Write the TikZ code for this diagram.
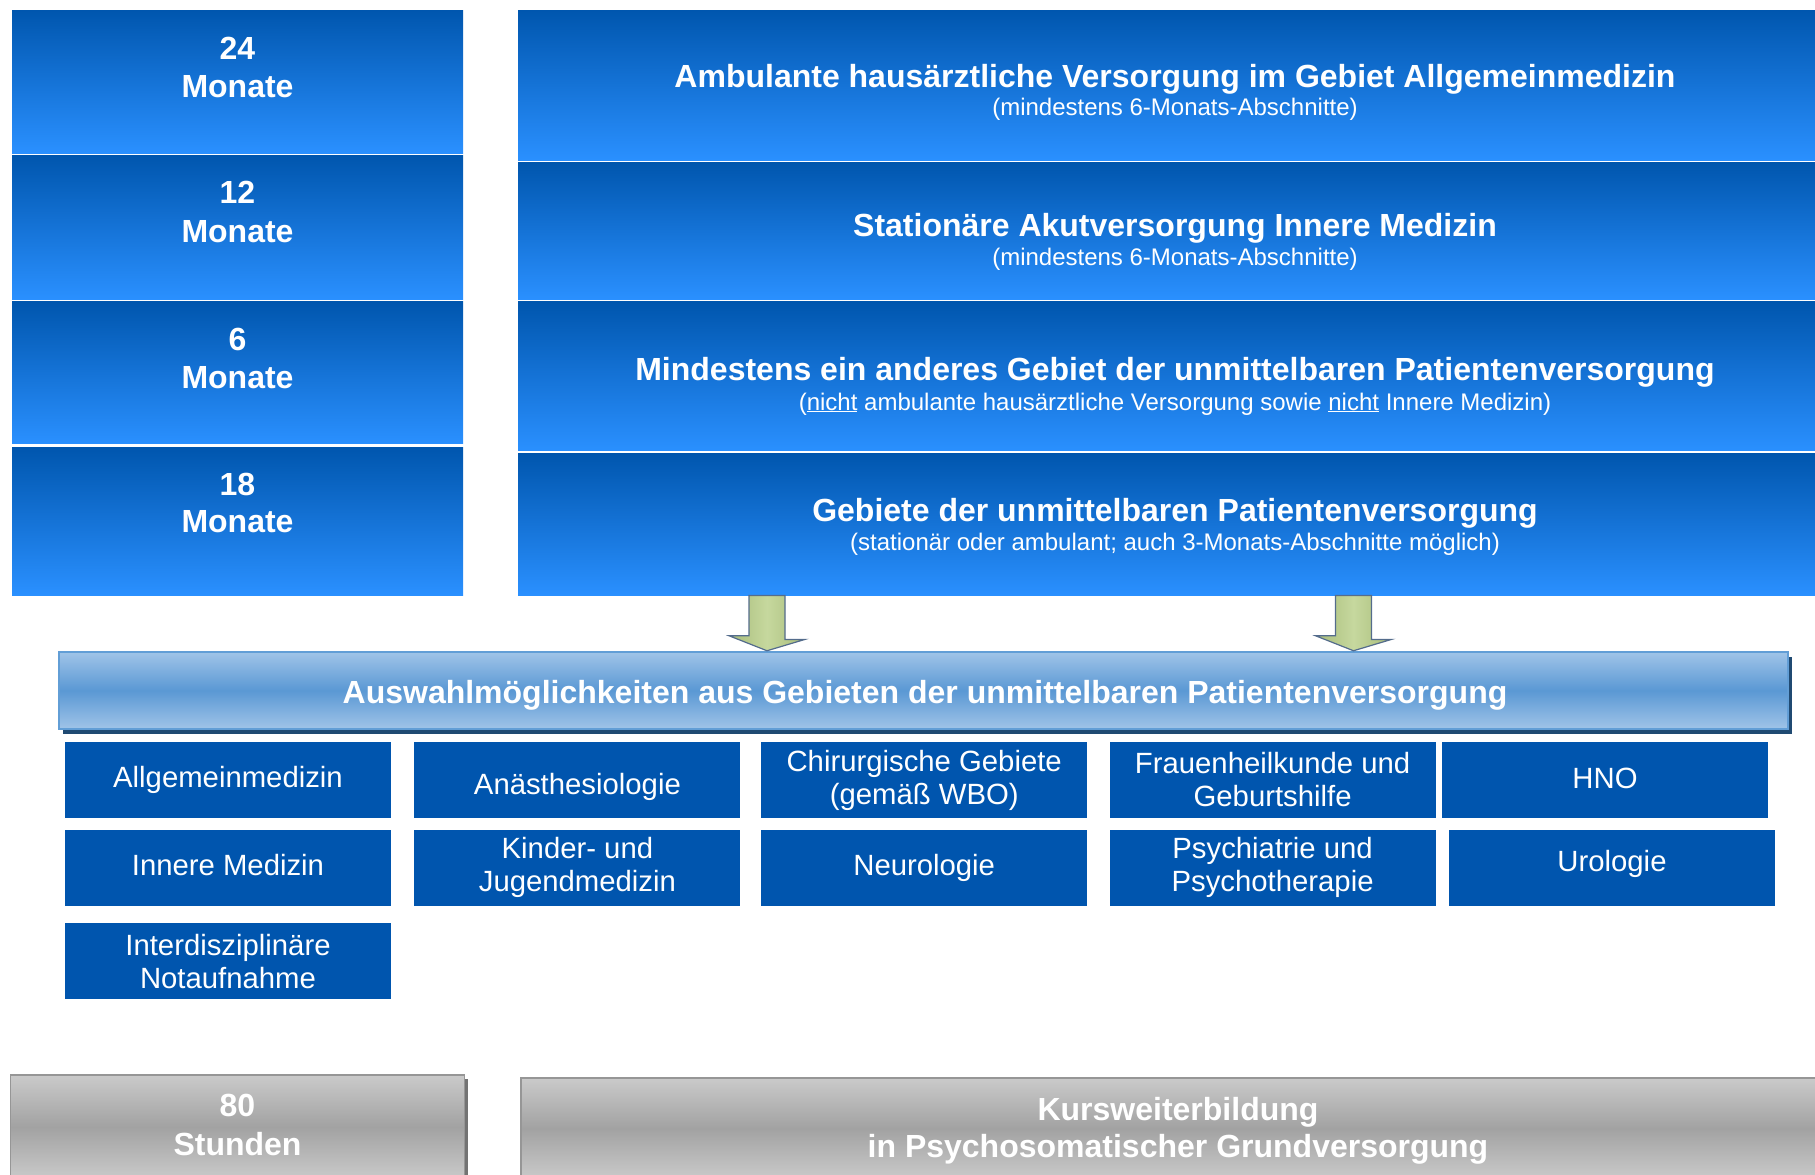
\documentclass[tikz,border=0pt]{standalone}
\usepackage{fontspec}
\setmainfont{Liberation Sans}
\usetikzlibrary{positioning,calc,shadows}

\definecolor{boxtop}{RGB}{0,86,174}
\definecolor{boxbot}{RGB}{42,144,255}
\definecolor{gridblue}{RGB}{0,85,174}
\definecolor{bandlight}{RGB}{160,196,232}
\definecolor{bandmid}{RGB}{90,152,212}
\definecolor{bandedge}{RGB}{98,158,214}
\definecolor{bandshadow}{RGB}{32,74,114}
\definecolor{arrowlight}{RGB}{198,216,158}
\definecolor{arrowdark}{RGB}{168,188,122}
\definecolor{arrowedge}{RGB}{84,108,140}
\definecolor{graylight}{RGB}{202,202,202}
\definecolor{graydark}{RGB}{162,162,162}
\definecolor{grayedge}{RGB}{150,150,150}

\begin{document}
\begin{tikzpicture}[x=1pt,y=-1pt,
    bluebox/.style={rectangle,inner sep=0pt,top color=boxtop,bottom color=boxbot},
    fieldbox/.style={rectangle,fill=gridblue,text=white,inner sep=0pt,minimum width=326pt,
      minimum height=76pt,align=center,font=\fontsize{29.3}{33}\selectfont},
    graybox/.style={rectangle,inner sep=0pt,top color=graylight,bottom color=graylight,
      middle color=graydark,draw=grayedge,line width=1.5pt},
    bigtxt/.style={anchor=base,text=white,inner sep=0pt,font=\bfseries\fontsize{32}{38}\selectfont},
    subtxt/.style={anchor=base,text=white,inner sep=0pt,font=\fontsize{24}{28}\selectfont},
    blockarrow/.style={draw=arrowedge,line width=1.2pt,left color=arrowdark,
      right color=arrowdark,middle color=arrowlight}]
  \useasboundingbox (0,0) rectangle (1815,1175);
  \clip (0,0) rectangle (1815,1175);

  % Dauer
  \node[bluebox,minimum width=451pt,minimum height=143pt] (mon24) at (237.5,81.5) {};
  \node[bluebox,minimum width=451pt,minimum height=144pt] (mon12) [below=2pt of mon24] {};
  \node[bluebox,minimum width=451pt,minimum height=142pt] (mon6) [below=2pt of mon12] {};
  \node[bluebox,minimum width=451pt,minimum height=148pt] (mon18) [below=3pt of mon6] {};

  \node[bigtxt] (t24) at (237.5,59) {24};
  \node[bigtxt] (t24m) at (237.5,97) {Monate};
  \node[bigtxt] (t12) at (237.5,203) {12};
  \node[bigtxt] (t12m) at (237.5,242) {Monate};
  \node[bigtxt] (t6) at (237.5,350) {6};
  \node[bigtxt] (t6m) at (237.5,388) {Monate};
  \node[bigtxt] (t18) at (237.5,495) {18};
  \node[bigtxt] (t18m) at (237.5,532) {Monate};

  % Abschnitte
  \node[bluebox,minimum width=1314pt,minimum height=150pt] (amb) at (1175,85) {};
  \node[bluebox,minimum width=1314pt,minimum height=137pt] (stat) [below=2pt of amb] {};
  \node[bluebox,minimum width=1314pt,minimum height=149pt] (mind) [below=2pt of stat] {};
  \node[bluebox,minimum width=1314pt,minimum height=142pt] (geb) [below=2pt of mind] {};

  \node[bigtxt] (ambt) at (1175,87) {Ambulante hausärztliche Versorgung im Gebiet Allgemeinmedizin};
  \node[subtxt] (ambs) at (1175,115) {(mindestens 6-Monats-Abschnitte)};
  \node[bigtxt] (statt) at (1175,236) {Stationäre Akutversorgung Innere Medizin};
  \node[subtxt] (stats) at (1175,265) {(mindestens 6-Monats-Abschnitte)};
  \node[bigtxt] (mindt) at (1175,380.5) {Mindestens ein anderes Gebiet der unmittelbaren Patientenversorgung};
  \node[subtxt] (minds) at (1175,410) {(\underline{nicht} ambulante hausärztliche Versorgung sowie \underline{nicht} Innere Medizin)};
  \node[bigtxt] (gebt) at (1175,521) {Gebiete der unmittelbaren Patientenversorgung};
  \node[subtxt] (gebs) at (1175,550.5) {(stationär oder ambulant; auch 3-Monats-Abschnitte möglich)};

  % Auswahl
  \node[rectangle,draw=bandedge,line width=2.5pt,top color=bandlight,bottom color=bandlight,
    middle color=bandmid,minimum width=1729pt,minimum height=77pt,
    drop shadow={shadow xshift=4pt,shadow yshift=-5pt,fill=bandshadow,opacity=1}] (band) at (923.5,690.5) {};
  \node[bigtxt] (bandt) at (925,703) {Auswahlmöglichkeiten aus Gebieten der unmittelbaren Patientenversorgung};

  \coordinate (arrA) at (767,594);
  \coordinate (arrB) at (1353.5,594);
  \draw[blockarrow] ($(geb.south -| arrA)+(-18,0)$) -- ++(36,0) -- ++(0,44) -- ++(20,0)
    -- (band.north -| arrA) -- ++(-38,-15) -- ++(20,0) -- cycle;
  \draw[blockarrow] ($(geb.south -| arrB)+(-18,0)$) -- ++(36,0) -- ++(0,44) -- ++(20,0)
    -- (band.north -| arrB) -- ++(-38,-15) -- ++(20,0) -- cycle;

  \node[fieldbox] (allg) at (228,780) {Allgemeinmedizin};
  \node[fieldbox,text height=31pt,text depth=2pt] (anae) [right=23pt of allg] {Anästhesiologie};
  \node[fieldbox] (chir) [right=20.4pt of anae] {Chirurgische Gebiete\\(gemäß WBO)};
  \node[fieldbox] (frau) [right=22pt of chir] {Frauenheilkunde und\\Geburtshilfe};
  \node[fieldbox,text height=20pt,text depth=3pt] (hno) [right=6pt of frau] {HNO};
  \node[fieldbox,text height=20pt,text depth=3.5pt] (inn) [below=11.3pt of allg] {Innere Medizin};
  \node[fieldbox] (kind) [below=11.3pt of anae] {Kinder- und\\Jugendmedizin};
  \node[fieldbox] (neur) [below=11.3pt of chir] {Neurologie};
  \node[fieldbox] (psy) [below=11.3pt of frau] {Psychiatrie und\\Psychotherapie};
  \node[fieldbox,text height=18pt,text depth=10pt] (uro) [right=13pt of psy] {Urologie};
  \node[fieldbox] (notf) [below=17.3pt of inn] {Interdisziplinäre\\Notaufnahme};

  % Kurs
  \node[graybox,minimum width=454pt,minimum height=104pt,
    drop shadow={shadow xshift=3pt,shadow yshift=-4pt,fill=black!55,opacity=1}] (std) at (237.7,1127) {};
  \node[graybox,minimum width=1309pt,minimum height=101pt] (kurs) at (1175.5,1128.5) {};
  \node[bigtxt] (t80) at (237.5,1116) {80};
  \node[bigtxt] (t80s) at (237.5,1155) {Stunden};
  \node[bigtxt] (kurst) at (1178,1120) {Kursweiterbildung};
  \node[bigtxt] (kurss) at (1178,1157) {in Psychosomatischer Grundversorgung};
\end{tikzpicture}
\end{document}
